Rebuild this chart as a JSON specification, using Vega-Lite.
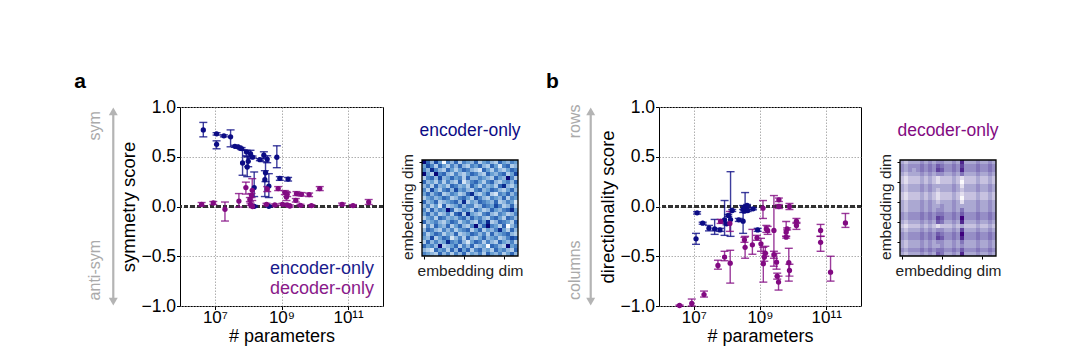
{
"$schema": "https://vega.github.io/schema/vega-lite/v6.json",
"background": "white",
"padding": {"left": 74, "top": 70, "right": 5, "bottom": 5},
"bounds": "flush",
"spacing": 39,
"config": {"font": "Liberation Sans", "view": {"stroke": "#000", "strokeWidth": 1}},
"datasets": {
"a": [
{"t":"e","x":4.47e6,"y":0.77,"lo":0.70,"hi":0.845},
{"t":"e","x":1.12e7,"y":0.73,"lo":0.718,"hi":0.742},
{"t":"e","x":1.12e7,"y":0.625,"lo":0.58,"hi":0.66},
{"t":"e","x":1.86e7,"y":0.71,"lo":0.70,"hi":0.72},
{"t":"e","x":2.95e7,"y":0.70,"lo":0.60,"hi":0.77},
{"t":"e","x":3.98e7,"y":0.605,"lo":0.595,"hi":0.615},
{"t":"e","x":5.01e7,"y":0.598,"lo":0.588,"hi":0.608},
{"t":"e","x":6.31e7,"y":0.582,"lo":0.572,"hi":0.592},
{"t":"e","x":8.91e7,"y":0.548,"lo":0.51,"hi":0.565},
{"t":"e","x":6.76e7,"y":0.437,"lo":0.314,"hi":0.565},
{"t":"e","x":9.33e7,"y":0.397,"lo":0.30,"hi":0.50},
{"t":"e","x":1.0e8,"y":0.454,"lo":0.40,"hi":0.50},
{"t":"e","x":1.17e8,"y":0.532,"lo":0.48,"hi":0.565},
{"t":"e","x":1.35e8,"y":0.497,"lo":0.487,"hi":0.507},
{"t":"e","x":1.51e8,"y":0.19,"lo":0.10,"hi":0.347},
{"t":"e","x":1.51e8,"y":0.002,"lo":-0.006,"hi":0.01},
{"t":"e","x":2.24e8,"y":0.471,"lo":0.461,"hi":0.481},
{"t":"e","x":2.95e8,"y":0.515,"lo":0.48,"hi":0.55},
{"t":"e","x":3.72e8,"y":0.477,"lo":0.44,"hi":0.51},
{"t":"e","x":3.31e8,"y":0.34,"lo":0.25,"hi":0.45},
{"t":"e","x":3.16e8,"y":0.27,"lo":0.10,"hi":0.36},
{"t":"e","x":4.17e8,"y":0.205,"lo":0.09,"hi":0.33},
{"t":"e","x":4.17e8,"y":0.002,"lo":-0.006,"hi":0.01},
{"t":"e","x":7.24e8,"y":0.495,"lo":0.39,"hi":0.61},
{"t":"e","x":8.91e8,"y":0.283,"lo":0.263,"hi":0.30},
{"t":"e","x":1.58e9,"y":0.276,"lo":0.256,"hi":0.292},
{"t":"d","x":3.98e6,"y":0.022,"lo":0.005,"hi":0.04},
{"t":"d","x":8.91e6,"y":0.035,"lo":0.02,"hi":0.05},
{"t":"d","x":2.0e7,"y":-0.028,"lo":-0.146,"hi":0.045},
{"t":"d","x":5.25e7,"y":0.055,"lo":-0.005,"hi":0.13},
{"t":"d","x":8.51e7,"y":0.19,"lo":0.125,"hi":0.245},
{"t":"d","x":1.32e8,"y":0.163,"lo":0.06,"hi":0.28},
{"t":"d","x":1.26e8,"y":0.112,"lo":0.09,"hi":0.13},
{"t":"d","x":1.12e8,"y":0.07,"lo":0.05,"hi":0.09},
{"t":"d","x":1.17e8,"y":0.022,"lo":0.01,"hi":0.034},
{"t":"d","x":1.35e8,"y":0.0,"lo":-0.01,"hi":0.01},
{"t":"d","x":3.55e8,"y":0.022,"lo":0.012,"hi":0.032},
{"t":"d","x":3.72e8,"y":0.176,"lo":0.15,"hi":0.2},
{"t":"d","x":6.31e8,"y":0.015,"lo":0.005,"hi":0.025},
{"t":"d","x":7.94e8,"y":0.18,"lo":0.16,"hi":0.2},
{"t":"d","x":1.07e9,"y":0.022,"lo":0.012,"hi":0.032},
{"t":"d","x":1.26e9,"y":0.14,"lo":0.12,"hi":0.16},
{"t":"d","x":1.41e9,"y":0.095,"lo":0.06,"hi":0.15},
{"t":"d","x":1.48e9,"y":0.122,"lo":0.1,"hi":0.14},
{"t":"d","x":1.48e9,"y":0.015,"lo":0.005,"hi":0.025},
{"t":"d","x":1.78e9,"y":0.005,"lo":-0.005,"hi":0.015},
{"t":"d","x":2.69e9,"y":0.062,"lo":0.045,"hi":0.08},
{"t":"d","x":2.82e9,"y":0.13,"lo":0.11,"hi":0.15},
{"t":"d","x":3.72e9,"y":0.012,"lo":0.002,"hi":0.022},
{"t":"d","x":3.98e9,"y":0.122,"lo":0.105,"hi":0.14},
{"t":"d","x":6.76e9,"y":0.12,"lo":0.10,"hi":0.135},
{"t":"d","x":7.94e9,"y":0.009,"lo":-0.001,"hi":0.019},
{"t":"d","x":1.41e10,"y":0.18,"lo":0.16,"hi":0.2},
{"t":"d","x":6.61e10,"y":0.022,"lo":0.01,"hi":0.034},
{"t":"d","x":1.41e11,"y":0.009,"lo":-0.001,"hi":0.019},
{"t":"d","x":4.17e11,"y":0.045,"lo":0.02,"hi":0.07}
],
"b": [
{"t":"e","x":1.17e7,"y":-0.325,"lo":-0.38,"hi":-0.27},
{"t":"e","x":1.26e7,"y":-0.064,"lo":-0.076,"hi":-0.052},
{"t":"e","x":1.86e7,"y":-0.168,"lo":-0.178,"hi":-0.158},
{"t":"e","x":2.88e7,"y":-0.218,"lo":-0.245,"hi":-0.19},
{"t":"e","x":4.27e7,"y":-0.225,"lo":-0.28,"hi":-0.13},
{"t":"e","x":6.17e7,"y":-0.235,"lo":-0.25,"hi":-0.22},
{"t":"e","x":8.51e7,"y":-0.134,"lo":-0.29,"hi":0.06},
{"t":"e","x":9.77e7,"y":-0.174,"lo":-0.184,"hi":-0.164},
{"t":"e","x":1.1e8,"y":-0.09,"lo":-0.1,"hi":-0.08},
{"t":"e","x":1.29e8,"y":-0.131,"lo":-0.30,"hi":0.35},
{"t":"e","x":1.45e8,"y":-0.04,"lo":-0.05,"hi":-0.03},
{"t":"e","x":2.29e8,"y":-0.134,"lo":-0.15,"hi":-0.12},
{"t":"e","x":3.09e8,"y":-0.148,"lo":-0.27,"hi":-0.03},
{"t":"e","x":3.09e8,"y":-0.023,"lo":-0.06,"hi":0.01},
{"t":"e","x":3.31e8,"y":-0.047,"lo":-0.057,"hi":-0.037},
{"t":"e","x":3.55e8,"y":-0.007,"lo":-0.04,"hi":0.14},
{"t":"e","x":4.07e8,"y":0.01,"lo":0.0,"hi":0.02},
{"t":"e","x":4.27e8,"y":-0.04,"lo":-0.05,"hi":-0.03},
{"t":"e","x":6.17e8,"y":-0.023,"lo":-0.033,"hi":-0.013},
{"t":"e","x":8.51e8,"y":-0.235,"lo":-0.25,"hi":-0.22},
{"t":"d","x":3.72e6,"y":-0.995,"lo":-1.0,"hi":-0.99},
{"t":"d","x":8.71e6,"y":-0.975,"lo":-1.0,"hi":-0.93},
{"t":"d","x":2.04e7,"y":-0.885,"lo":-0.91,"hi":-0.85},
{"t":"d","x":5.37e7,"y":-0.593,"lo":-0.63,"hi":-0.54},
{"t":"d","x":8.51e7,"y":-0.508,"lo":-0.545,"hi":-0.45},
{"t":"d","x":1.26e8,"y":-0.57,"lo":-0.77,"hi":-0.44},
{"t":"d","x":6.46e7,"y":-0.15,"lo":-0.17,"hi":-0.13},
{"t":"d","x":1.23e8,"y":-0.17,"lo":-0.25,"hi":-0.05},
{"t":"d","x":3.39e8,"y":-0.335,"lo":-0.36,"hi":-0.31},
{"t":"d","x":3.55e8,"y":-0.41,"lo":-0.52,"hi":-0.30},
{"t":"d","x":5.89e8,"y":-0.385,"lo":-0.48,"hi":-0.23},
{"t":"d","x":8.13e8,"y":-0.315,"lo":-0.34,"hi":-0.29},
{"t":"d","x":1.07e9,"y":-0.375,"lo":-0.45,"hi":-0.32},
{"t":"d","x":1.23e9,"y":-0.017,"lo":-0.12,"hi":0.06},
{"t":"d","x":1.26e9,"y":-0.575,"lo":-0.76,"hi":-0.41},
{"t":"d","x":1.35e9,"y":-0.51,"lo":-0.55,"hi":-0.47},
{"t":"d","x":1.45e9,"y":-0.47,"lo":-0.50,"hi":-0.40},
{"t":"d","x":1.55e9,"y":-0.225,"lo":-0.26,"hi":-0.19},
{"t":"d","x":1.7e9,"y":-0.24,"lo":-0.28,"hi":-0.20},
{"t":"d","x":2.63e9,"y":-0.24,"lo":-0.60,"hi":0.11},
{"t":"d","x":2.63e9,"y":-0.485,"lo":-0.52,"hi":-0.45},
{"t":"d","x":3.16e9,"y":-0.56,"lo":-0.63,"hi":-0.47},
{"t":"d","x":3.31e9,"y":-0.70,"lo":-0.73,"hi":-0.67},
{"t":"d","x":3.63e9,"y":-0.76,"lo":-0.84,"hi":-0.70},
{"t":"d","x":3.72e9,"y":0.067,"lo":0.05,"hi":0.085},
{"t":"d","x":3.72e9,"y":0.0,"lo":-0.02,"hi":0.02},
{"t":"d","x":6.17e9,"y":-0.258,"lo":-0.30,"hi":-0.15},
{"t":"d","x":6.17e9,"y":-0.308,"lo":-0.318,"hi":-0.298},
{"t":"d","x":6.61e9,"y":-0.225,"lo":-0.235,"hi":-0.215},
{"t":"d","x":7.41e9,"y":-0.565,"lo":-0.75,"hi":-0.42},
{"t":"d","x":7.76e9,"y":-0.643,"lo":-0.70,"hi":-0.58},
{"t":"d","x":7.76e9,"y":0.0,"lo":-0.03,"hi":0.03},
{"t":"d","x":1.26e10,"y":-0.148,"lo":-0.17,"hi":-0.12},
{"t":"d","x":1.26e10,"y":-0.19,"lo":-0.23,"hi":-0.16},
{"t":"d","x":6.76e10,"y":-0.24,"lo":-0.30,"hi":-0.18},
{"t":"d","x":6.76e10,"y":-0.36,"lo":-0.45,"hi":-0.30},
{"t":"d","x":1.35e11,"y":-0.66,"lo":-0.75,"hi":-0.50},
{"t":"d","x":3.8e11,"y":-0.165,"lo":-0.21,"hi":-0.07}
],
"hA": [
{"r":0,"c":0,"v":9},{"r":0,"c":1,"v":6},{"r":0,"c":2,"v":3},{"r":0,"c":3,"v":7},{"r":0,"c":4,"v":4},{"r":0,"c":5,"v":0},{"r":0,"c":6,"v":5},{"r":0,"c":7,"v":3},{"r":0,"c":8,"v":6},{"r":0,"c":9,"v":2},{"r":0,"c":10,"v":5},{"r":0,"c":11,"v":4},{"r":0,"c":12,"v":3},{"r":0,"c":13,"v":6},{"r":0,"c":14,"v":2},{"r":0,"c":15,"v":4},{"r":0,"c":16,"v":5},{"r":0,"c":17,"v":3},{"r":0,"c":18,"v":2},{"r":0,"c":19,"v":6},{"r":0,"c":20,"v":4},{"r":0,"c":21,"v":3},{"r":0,"c":22,"v":5},{"r":0,"c":23,"v":4},
{"r":1,"c":0,"v":4},{"r":1,"c":1,"v":7},{"r":1,"c":2,"v":5},{"r":1,"c":3,"v":2},{"r":1,"c":4,"v":6},{"r":1,"c":5,"v":4},{"r":1,"c":6,"v":2},{"r":1,"c":7,"v":5},{"r":1,"c":8,"v":3},{"r":1,"c":9,"v":6},{"r":1,"c":10,"v":3},{"r":1,"c":11,"v":2},{"r":1,"c":12,"v":5},{"r":1,"c":13,"v":4},{"r":1,"c":14,"v":6},{"r":1,"c":15,"v":3},{"r":1,"c":16,"v":2},{"r":1,"c":17,"v":6},{"r":1,"c":18,"v":4},{"r":1,"c":19,"v":1},{"r":1,"c":20,"v":5},{"r":1,"c":21,"v":6},{"r":1,"c":22,"v":2},{"r":1,"c":23,"v":3},
{"r":2,"c":0,"v":5},{"r":2,"c":1,"v":3},{"r":2,"c":2,"v":8},{"r":2,"c":3,"v":5},{"r":2,"c":4,"v":3},{"r":2,"c":5,"v":2},{"r":2,"c":6,"v":6},{"r":2,"c":7,"v":4},{"r":2,"c":8,"v":2},{"r":2,"c":9,"v":4},{"r":2,"c":10,"v":6},{"r":2,"c":11,"v":5},{"r":2,"c":12,"v":3},{"r":2,"c":13,"v":2},{"r":2,"c":14,"v":1},{"r":2,"c":15,"v":6},{"r":2,"c":16,"v":4},{"r":2,"c":17,"v":2},{"r":2,"c":18,"v":5},{"r":2,"c":19,"v":3},{"r":2,"c":20,"v":2},{"r":2,"c":21,"v":4},{"r":2,"c":22,"v":6},{"r":2,"c":23,"v":5},
{"r":3,"c":0,"v":9},{"r":3,"c":1,"v":4},{"r":3,"c":2,"v":2},{"r":3,"c":3,"v":9},{"r":3,"c":4,"v":5},{"r":3,"c":5,"v":6},{"r":3,"c":6,"v":3},{"r":3,"c":7,"v":2},{"r":3,"c":8,"v":5},{"r":3,"c":9,"v":3},{"r":3,"c":10,"v":2},{"r":3,"c":11,"v":4},{"r":3,"c":12,"v":6},{"r":3,"c":13,"v":5},{"r":3,"c":14,"v":3},{"r":3,"c":15,"v":2},{"r":3,"c":16,"v":6},{"r":3,"c":17,"v":4},{"r":3,"c":18,"v":3},{"r":3,"c":19,"v":5},{"r":3,"c":20,"v":6},{"r":3,"c":21,"v":2},{"r":3,"c":22,"v":4},{"r":3,"c":23,"v":7},
{"r":4,"c":0,"v":2},{"r":4,"c":1,"v":5},{"r":4,"c":2,"v":6},{"r":4,"c":3,"v":3},{"r":4,"c":4,"v":7},{"r":4,"c":5,"v":3},{"r":4,"c":6,"v":4},{"r":4,"c":7,"v":6},{"r":4,"c":8,"v":4},{"r":4,"c":9,"v":5},{"r":4,"c":10,"v":2},{"r":4,"c":11,"v":6},{"r":4,"c":12,"v":3},{"r":4,"c":13,"v":3},{"r":4,"c":14,"v":5},{"r":4,"c":15,"v":4},{"r":4,"c":16,"v":3},{"r":4,"c":17,"v":2},{"r":4,"c":18,"v":6},{"r":4,"c":19,"v":4},{"r":4,"c":20,"v":3},{"r":4,"c":21,"v":9},{"r":4,"c":22,"v":5},{"r":4,"c":23,"v":2},
{"r":5,"c":0,"v":6},{"r":5,"c":1,"v":3},{"r":5,"c":2,"v":4},{"r":5,"c":3,"v":2},{"r":5,"c":4,"v":5},{"r":5,"c":5,"v":2},{"r":5,"c":6,"v":5},{"r":5,"c":7,"v":3},{"r":5,"c":8,"v":2},{"r":5,"c":9,"v":6},{"r":5,"c":10,"v":1},{"r":5,"c":11,"v":3},{"r":5,"c":12,"v":5},{"r":5,"c":13,"v":6},{"r":5,"c":14,"v":4},{"r":5,"c":15,"v":2},{"r":5,"c":16,"v":5},{"r":5,"c":17,"v":6},{"r":5,"c":18,"v":3},{"r":5,"c":19,"v":2},{"r":5,"c":20,"v":4},{"r":5,"c":21,"v":5},{"r":5,"c":22,"v":3},{"r":5,"c":23,"v":6},
{"r":6,"c":0,"v":3},{"r":6,"c":1,"v":5},{"r":6,"c":2,"v":2},{"r":6,"c":3,"v":6},{"r":6,"c":4,"v":3},{"r":6,"c":5,"v":4},{"r":6,"c":6,"v":2},{"r":6,"c":7,"v":6},{"r":6,"c":8,"v":5},{"r":6,"c":9,"v":3},{"r":6,"c":10,"v":4},{"r":6,"c":11,"v":2},{"r":6,"c":12,"v":6},{"r":6,"c":13,"v":4},{"r":6,"c":14,"v":2},{"r":6,"c":15,"v":5},{"r":6,"c":16,"v":3},{"r":6,"c":17,"v":4},{"r":6,"c":18,"v":2},{"r":6,"c":19,"v":6},{"r":6,"c":20,"v":8},{"r":6,"c":21,"v":3},{"r":6,"c":22,"v":2},{"r":6,"c":23,"v":4},
{"r":7,"c":0,"v":5},{"r":7,"c":1,"v":2},{"r":7,"c":2,"v":7},{"r":7,"c":3,"v":4},{"r":7,"c":4,"v":2},{"r":7,"c":5,"v":5},{"r":7,"c":6,"v":6},{"r":7,"c":7,"v":3},{"r":7,"c":8,"v":7},{"r":7,"c":9,"v":4},{"r":7,"c":10,"v":5},{"r":7,"c":11,"v":3},{"r":7,"c":12,"v":2},{"r":7,"c":13,"v":5},{"r":7,"c":14,"v":6},{"r":7,"c":15,"v":3},{"r":7,"c":16,"v":4},{"r":7,"c":17,"v":6},{"r":7,"c":18,"v":5},{"r":7,"c":19,"v":3},{"r":7,"c":20,"v":2},{"r":7,"c":21,"v":4},{"r":7,"c":22,"v":6},{"r":7,"c":23,"v":3},
{"r":8,"c":0,"v":4},{"r":8,"c":1,"v":6},{"r":8,"c":2,"v":3},{"r":8,"c":3,"v":5},{"r":8,"c":4,"v":6},{"r":8,"c":5,"v":2},{"r":8,"c":6,"v":3},{"r":8,"c":7,"v":5},{"r":8,"c":8,"v":4},{"r":8,"c":9,"v":2},{"r":8,"c":10,"v":3},{"r":8,"c":11,"v":6},{"r":8,"c":12,"v":8},{"r":8,"c":13,"v":3},{"r":8,"c":14,"v":2},{"r":8,"c":15,"v":4},{"r":8,"c":16,"v":6},{"r":8,"c":17,"v":2},{"r":8,"c":18,"v":1},{"r":8,"c":19,"v":5},{"r":8,"c":20,"v":4},{"r":8,"c":21,"v":6},{"r":8,"c":22,"v":3},{"r":8,"c":23,"v":5},
{"r":9,"c":0,"v":2},{"r":9,"c":1,"v":4},{"r":9,"c":2,"v":5},{"r":9,"c":3,"v":3},{"r":9,"c":4,"v":4},{"r":9,"c":5,"v":6},{"r":9,"c":6,"v":5},{"r":9,"c":7,"v":2},{"r":9,"c":8,"v":3},{"r":9,"c":9,"v":5},{"r":9,"c":10,"v":6},{"r":9,"c":11,"v":4},{"r":9,"c":12,"v":2},{"r":9,"c":13,"v":7},{"r":9,"c":14,"v":5},{"r":9,"c":15,"v":3},{"r":9,"c":16,"v":2},{"r":9,"c":17,"v":5},{"r":9,"c":18,"v":4},{"r":9,"c":19,"v":3},{"r":9,"c":20,"v":6},{"r":9,"c":21,"v":2},{"r":9,"c":22,"v":5},{"r":9,"c":23,"v":4},
{"r":10,"c":0,"v":6},{"r":10,"c":1,"v":3},{"r":10,"c":2,"v":4},{"r":10,"c":3,"v":6},{"r":10,"c":4,"v":2},{"r":10,"c":5,"v":3},{"r":10,"c":6,"v":4},{"r":10,"c":7,"v":5},{"r":10,"c":8,"v":6},{"r":10,"c":9,"v":3},{"r":10,"c":10,"v":8},{"r":10,"c":11,"v":2},{"r":10,"c":12,"v":4},{"r":10,"c":13,"v":3},{"r":10,"c":14,"v":6},{"r":10,"c":15,"v":5},{"r":10,"c":16,"v":4},{"r":10,"c":17,"v":3},{"r":10,"c":18,"v":6},{"r":10,"c":19,"v":2},{"r":10,"c":20,"v":3},{"r":10,"c":21,"v":5},{"r":10,"c":22,"v":4},{"r":10,"c":23,"v":1},
{"r":11,"c":0,"v":3},{"r":11,"c":1,"v":5},{"r":11,"c":2,"v":2},{"r":11,"c":3,"v":4},{"r":11,"c":4,"v":1},{"r":11,"c":5,"v":6},{"r":11,"c":6,"v":2},{"r":11,"c":7,"v":3},{"r":11,"c":8,"v":4},{"r":11,"c":9,"v":6},{"r":11,"c":10,"v":3},{"r":11,"c":11,"v":5},{"r":11,"c":12,"v":5},{"r":11,"c":13,"v":2},{"r":11,"c":14,"v":3},{"r":11,"c":15,"v":6},{"r":11,"c":16,"v":5},{"r":11,"c":17,"v":4},{"r":11,"c":18,"v":7},{"r":11,"c":19,"v":5},{"r":11,"c":20,"v":2},{"r":11,"c":21,"v":3},{"r":11,"c":22,"v":6},{"r":11,"c":23,"v":2},
{"r":12,"c":0,"v":5},{"r":12,"c":1,"v":2},{"r":12,"c":2,"v":6},{"r":12,"c":3,"v":3},{"r":12,"c":4,"v":5},{"r":12,"c":5,"v":4},{"r":12,"c":6,"v":9},{"r":12,"c":7,"v":6},{"r":12,"c":8,"v":2},{"r":12,"c":9,"v":3},{"r":12,"c":10,"v":5},{"r":12,"c":11,"v":4},{"r":12,"c":12,"v":2},{"r":12,"c":13,"v":6},{"r":12,"c":14,"v":4},{"r":12,"c":15,"v":2},{"r":12,"c":16,"v":3},{"r":12,"c":17,"v":6},{"r":12,"c":18,"v":4},{"r":12,"c":19,"v":3},{"r":12,"c":20,"v":5},{"r":12,"c":21,"v":6},{"r":12,"c":22,"v":8},{"r":12,"c":23,"v":4},
{"r":13,"c":0,"v":4},{"r":13,"c":1,"v":6},{"r":13,"c":2,"v":3},{"r":13,"c":3,"v":5},{"r":13,"c":4,"v":2},{"r":13,"c":5,"v":3},{"r":13,"c":6,"v":5},{"r":13,"c":7,"v":2},{"r":13,"c":8,"v":6},{"r":13,"c":9,"v":7},{"r":13,"c":10,"v":2},{"r":13,"c":11,"v":8},{"r":13,"c":12,"v":4},{"r":13,"c":13,"v":3},{"r":13,"c":14,"v":2},{"r":13,"c":15,"v":5},{"r":13,"c":16,"v":6},{"r":13,"c":17,"v":3},{"r":13,"c":18,"v":2},{"r":13,"c":19,"v":5},{"r":13,"c":20,"v":4},{"r":13,"c":21,"v":2},{"r":13,"c":22,"v":3},{"r":13,"c":23,"v":5},
{"r":14,"c":0,"v":2},{"r":14,"c":1,"v":4},{"r":14,"c":2,"v":5},{"r":14,"c":3,"v":2},{"r":14,"c":4,"v":6},{"r":14,"c":5,"v":5},{"r":14,"c":6,"v":3},{"r":14,"c":7,"v":4},{"r":14,"c":8,"v":3},{"r":14,"c":9,"v":5},{"r":14,"c":10,"v":6},{"r":14,"c":11,"v":3},{"r":14,"c":12,"v":6},{"r":14,"c":13,"v":4},{"r":14,"c":14,"v":5},{"r":14,"c":15,"v":3},{"r":14,"c":16,"v":2},{"r":14,"c":17,"v":5},{"r":14,"c":18,"v":6},{"r":14,"c":19,"v":4},{"r":14,"c":20,"v":2},{"r":14,"c":21,"v":6},{"r":14,"c":22,"v":5},{"r":14,"c":23,"v":3},
{"r":15,"c":0,"v":6},{"r":15,"c":1,"v":3},{"r":15,"c":2,"v":4},{"r":15,"c":3,"v":5},{"r":15,"c":4,"v":3},{"r":15,"c":5,"v":2},{"r":15,"c":6,"v":4},{"r":15,"c":7,"v":6},{"r":15,"c":8,"v":5},{"r":15,"c":9,"v":2},{"r":15,"c":10,"v":4},{"r":15,"c":11,"v":5},{"r":15,"c":12,"v":3},{"r":15,"c":13,"v":2},{"r":15,"c":14,"v":6},{"r":15,"c":15,"v":4},{"r":15,"c":16,"v":8},{"r":15,"c":17,"v":2},{"r":15,"c":18,"v":3},{"r":15,"c":19,"v":6},{"r":15,"c":20,"v":5},{"r":15,"c":21,"v":4},{"r":15,"c":22,"v":2},{"r":15,"c":23,"v":6},
{"r":16,"c":0,"v":1},{"r":16,"c":1,"v":5},{"r":16,"c":2,"v":2},{"r":16,"c":3,"v":6},{"r":16,"c":4,"v":4},{"r":16,"c":5,"v":3},{"r":16,"c":6,"v":6},{"r":16,"c":7,"v":2},{"r":16,"c":8,"v":4},{"r":16,"c":9,"v":6},{"r":16,"c":10,"v":3},{"r":16,"c":11,"v":2},{"r":16,"c":12,"v":5},{"r":16,"c":13,"v":9},{"r":16,"c":14,"v":3},{"r":16,"c":15,"v":6},{"r":16,"c":16,"v":9},{"r":16,"c":17,"v":5},{"r":16,"c":18,"v":4},{"r":16,"c":19,"v":2},{"r":16,"c":20,"v":6},{"r":16,"c":21,"v":0},{"r":16,"c":22,"v":3},{"r":16,"c":23,"v":5},
{"r":17,"c":0,"v":3},{"r":17,"c":1,"v":6},{"r":17,"c":2,"v":5},{"r":17,"c":3,"v":3},{"r":17,"c":4,"v":2},{"r":17,"c":5,"v":5},{"r":17,"c":6,"v":3},{"r":17,"c":7,"v":5},{"r":17,"c":8,"v":2},{"r":17,"c":9,"v":4},{"r":17,"c":10,"v":5},{"r":17,"c":11,"v":6},{"r":17,"c":12,"v":2},{"r":17,"c":13,"v":4},{"r":17,"c":14,"v":6},{"r":17,"c":15,"v":2},{"r":17,"c":16,"v":4},{"r":17,"c":17,"v":3},{"r":17,"c":18,"v":5},{"r":17,"c":19,"v":8},{"r":17,"c":20,"v":4},{"r":17,"c":21,"v":2},{"r":17,"c":22,"v":6},{"r":17,"c":23,"v":3},
{"r":18,"c":0,"v":5},{"r":18,"c":1,"v":2},{"r":18,"c":2,"v":4},{"r":18,"c":3,"v":6},{"r":18,"c":4,"v":5},{"r":18,"c":5,"v":2},{"r":18,"c":6,"v":4},{"r":18,"c":7,"v":3},{"r":18,"c":8,"v":6},{"r":18,"c":9,"v":2},{"r":18,"c":10,"v":3},{"r":18,"c":11,"v":4},{"r":18,"c":12,"v":6},{"r":18,"c":13,"v":5},{"r":18,"c":14,"v":3},{"r":18,"c":15,"v":5},{"r":18,"c":16,"v":2},{"r":18,"c":17,"v":6},{"r":18,"c":18,"v":3},{"r":18,"c":19,"v":4},{"r":18,"c":20,"v":5},{"r":18,"c":21,"v":6},{"r":18,"c":22,"v":3},{"r":18,"c":23,"v":2},
{"r":19,"c":0,"v":4},{"r":19,"c":1,"v":3},{"r":19,"c":2,"v":7},{"r":19,"c":3,"v":2},{"r":19,"c":4,"v":4},{"r":19,"c":5,"v":6},{"r":19,"c":6,"v":5},{"r":19,"c":7,"v":1},{"r":19,"c":8,"v":3},{"r":19,"c":9,"v":5},{"r":19,"c":10,"v":2},{"r":19,"c":11,"v":6},{"r":19,"c":12,"v":3},{"r":19,"c":13,"v":2},{"r":19,"c":14,"v":4},{"r":19,"c":15,"v":6},{"r":19,"c":16,"v":3},{"r":19,"c":17,"v":4},{"r":19,"c":18,"v":5},{"r":19,"c":19,"v":2},{"r":19,"c":20,"v":3},{"r":19,"c":21,"v":5},{"r":19,"c":22,"v":7},{"r":19,"c":23,"v":6},
{"r":20,"c":0,"v":2},{"r":20,"c":1,"v":6},{"r":20,"c":2,"v":3},{"r":20,"c":3,"v":5},{"r":20,"c":4,"v":3},{"r":20,"c":5,"v":4},{"r":20,"c":6,"v":8},{"r":20,"c":7,"v":5},{"r":20,"c":8,"v":4},{"r":20,"c":9,"v":6},{"r":20,"c":10,"v":3},{"r":20,"c":11,"v":1},{"r":20,"c":12,"v":4},{"r":20,"c":13,"v":6},{"r":20,"c":14,"v":5},{"r":20,"c":15,"v":2},{"r":20,"c":16,"v":5},{"r":20,"c":17,"v":3},{"r":20,"c":18,"v":2},{"r":20,"c":19,"v":6},{"r":20,"c":20,"v":4},{"r":20,"c":21,"v":3},{"r":20,"c":22,"v":5},{"r":20,"c":23,"v":2},
{"r":21,"c":0,"v":6},{"r":21,"c":1,"v":4},{"r":21,"c":2,"v":5},{"r":21,"c":3,"v":3},{"r":21,"c":4,"v":9},{"r":21,"c":5,"v":2},{"r":21,"c":6,"v":3},{"r":21,"c":7,"v":4},{"r":21,"c":8,"v":6},{"r":21,"c":9,"v":2},{"r":21,"c":10,"v":5},{"r":21,"c":11,"v":3},{"r":21,"c":12,"v":6},{"r":21,"c":13,"v":2},{"r":21,"c":14,"v":3},{"r":21,"c":15,"v":4},{"r":21,"c":16,"v":0},{"r":21,"c":17,"v":6},{"r":21,"c":18,"v":5},{"r":21,"c":19,"v":3},{"r":21,"c":20,"v":2},{"r":21,"c":21,"v":9},{"r":21,"c":22,"v":4},{"r":21,"c":23,"v":5},
{"r":22,"c":0,"v":3},{"r":22,"c":1,"v":2},{"r":22,"c":2,"v":1},{"r":22,"c":3,"v":6},{"r":22,"c":4,"v":4},{"r":22,"c":5,"v":5},{"r":22,"c":6,"v":2},{"r":22,"c":7,"v":6},{"r":22,"c":8,"v":3},{"r":22,"c":9,"v":7},{"r":22,"c":10,"v":4},{"r":22,"c":11,"v":6},{"r":22,"c":12,"v":2},{"r":22,"c":13,"v":5},{"r":22,"c":14,"v":6},{"r":22,"c":15,"v":3},{"r":22,"c":16,"v":4},{"r":22,"c":17,"v":2},{"r":22,"c":18,"v":6},{"r":22,"c":19,"v":4},{"r":22,"c":20,"v":5},{"r":22,"c":21,"v":3},{"r":22,"c":22,"v":2},{"r":22,"c":23,"v":6},
{"r":23,"c":0,"v":5},{"r":23,"c":1,"v":4},{"r":23,"c":2,"v":3},{"r":23,"c":3,"v":2},{"r":23,"c":4,"v":6},{"r":23,"c":5,"v":3},{"r":23,"c":6,"v":5},{"r":23,"c":7,"v":2},{"r":23,"c":8,"v":5},{"r":23,"c":9,"v":3},{"r":23,"c":10,"v":6},{"r":23,"c":11,"v":2},{"r":23,"c":12,"v":4},{"r":23,"c":13,"v":3},{"r":23,"c":14,"v":5},{"r":23,"c":15,"v":2},{"r":23,"c":16,"v":6},{"r":23,"c":17,"v":4},{"r":23,"c":18,"v":3},{"r":23,"c":19,"v":5},{"r":23,"c":20,"v":2},{"r":23,"c":21,"v":4},{"r":23,"c":22,"v":6},{"r":23,"c":23,"v":3}
],
"hB": [
{"r":0,"c":0,"v":3},{"r":0,"c":1,"v":2},{"r":0,"c":2,"v":3},{"r":0,"c":3,"v":3},{"r":0,"c":4,"v":3},{"r":0,"c":5,"v":4},{"r":0,"c":6,"v":3},{"r":0,"c":7,"v":4},{"r":0,"c":8,"v":3},{"r":0,"c":9,"v":4},{"r":0,"c":10,"v":4},{"r":0,"c":11,"v":3},{"r":0,"c":12,"v":3},{"r":0,"c":13,"v":4},{"r":0,"c":14,"v":3},{"r":0,"c":15,"v":8},{"r":0,"c":16,"v":3},{"r":0,"c":17,"v":3},{"r":0,"c":18,"v":3},{"r":0,"c":19,"v":4},{"r":0,"c":20,"v":3},{"r":0,"c":21,"v":3},{"r":0,"c":22,"v":4},{"r":0,"c":23,"v":3},
{"r":1,"c":0,"v":4},{"r":1,"c":1,"v":3},{"r":1,"c":2,"v":4},{"r":1,"c":3,"v":4},{"r":1,"c":4,"v":4},{"r":1,"c":5,"v":5},{"r":1,"c":6,"v":4},{"r":1,"c":7,"v":5},{"r":1,"c":8,"v":4},{"r":1,"c":9,"v":6},{"r":1,"c":10,"v":5},{"r":1,"c":11,"v":4},{"r":1,"c":12,"v":4},{"r":1,"c":13,"v":5},{"r":1,"c":14,"v":4},{"r":1,"c":15,"v":7},{"r":1,"c":16,"v":4},{"r":1,"c":17,"v":4},{"r":1,"c":18,"v":4},{"r":1,"c":19,"v":5},{"r":1,"c":20,"v":4},{"r":1,"c":21,"v":4},{"r":1,"c":22,"v":5},{"r":1,"c":23,"v":4},
{"r":2,"c":0,"v":4},{"r":2,"c":1,"v":3},{"r":2,"c":2,"v":4},{"r":2,"c":3,"v":3},{"r":2,"c":4,"v":4},{"r":2,"c":5,"v":5},{"r":2,"c":6,"v":4},{"r":2,"c":7,"v":5},{"r":2,"c":8,"v":4},{"r":2,"c":9,"v":7},{"r":2,"c":10,"v":6},{"r":2,"c":11,"v":4},{"r":2,"c":12,"v":4},{"r":2,"c":13,"v":5},{"r":2,"c":14,"v":4},{"r":2,"c":15,"v":8},{"r":2,"c":16,"v":4},{"r":2,"c":17,"v":4},{"r":2,"c":18,"v":4},{"r":2,"c":19,"v":5},{"r":2,"c":20,"v":4},{"r":2,"c":21,"v":4},{"r":2,"c":22,"v":5},{"r":2,"c":23,"v":4},
{"r":3,"c":0,"v":3},{"r":3,"c":1,"v":2},{"r":3,"c":2,"v":3},{"r":3,"c":3,"v":3},{"r":3,"c":4,"v":3},{"r":3,"c":5,"v":4},{"r":3,"c":6,"v":3},{"r":3,"c":7,"v":4},{"r":3,"c":8,"v":3},{"r":3,"c":9,"v":4},{"r":3,"c":10,"v":4},{"r":3,"c":11,"v":3},{"r":3,"c":12,"v":3},{"r":3,"c":13,"v":4},{"r":3,"c":14,"v":3},{"r":3,"c":15,"v":5},{"r":3,"c":16,"v":3},{"r":3,"c":17,"v":3},{"r":3,"c":18,"v":3},{"r":3,"c":19,"v":4},{"r":3,"c":20,"v":3},{"r":3,"c":21,"v":3},{"r":3,"c":22,"v":4},{"r":3,"c":23,"v":3},
{"r":4,"c":0,"v":2},{"r":4,"c":1,"v":1},{"r":4,"c":2,"v":2},{"r":4,"c":3,"v":2},{"r":4,"c":4,"v":2},{"r":4,"c":5,"v":3},{"r":4,"c":6,"v":2},{"r":4,"c":7,"v":3},{"r":4,"c":8,"v":2},{"r":4,"c":9,"v":1},{"r":4,"c":10,"v":2},{"r":4,"c":11,"v":2},{"r":4,"c":12,"v":2},{"r":4,"c":13,"v":3},{"r":4,"c":14,"v":2},{"r":4,"c":15,"v":1},{"r":4,"c":16,"v":2},{"r":4,"c":17,"v":2},{"r":4,"c":18,"v":2},{"r":4,"c":19,"v":3},{"r":4,"c":20,"v":2},{"r":4,"c":21,"v":2},{"r":4,"c":22,"v":3},{"r":4,"c":23,"v":2},
{"r":5,"c":0,"v":2},{"r":5,"c":1,"v":1},{"r":5,"c":2,"v":2},{"r":5,"c":3,"v":2},{"r":5,"c":4,"v":2},{"r":5,"c":5,"v":3},{"r":5,"c":6,"v":2},{"r":5,"c":7,"v":3},{"r":5,"c":8,"v":2},{"r":5,"c":9,"v":1},{"r":5,"c":10,"v":2},{"r":5,"c":11,"v":2},{"r":5,"c":12,"v":2},{"r":5,"c":13,"v":3},{"r":5,"c":14,"v":2},{"r":5,"c":15,"v":0},{"r":5,"c":16,"v":2},{"r":5,"c":17,"v":2},{"r":5,"c":18,"v":2},{"r":5,"c":19,"v":3},{"r":5,"c":20,"v":2},{"r":5,"c":21,"v":2},{"r":5,"c":22,"v":3},{"r":5,"c":23,"v":2},
{"r":6,"c":0,"v":3},{"r":6,"c":1,"v":2},{"r":6,"c":2,"v":3},{"r":6,"c":3,"v":3},{"r":6,"c":4,"v":3},{"r":6,"c":5,"v":4},{"r":6,"c":6,"v":3},{"r":6,"c":7,"v":4},{"r":6,"c":8,"v":3},{"r":6,"c":9,"v":3},{"r":6,"c":10,"v":3},{"r":6,"c":11,"v":3},{"r":6,"c":12,"v":3},{"r":6,"c":13,"v":4},{"r":6,"c":14,"v":3},{"r":6,"c":15,"v":1},{"r":6,"c":16,"v":3},{"r":6,"c":17,"v":3},{"r":6,"c":18,"v":3},{"r":6,"c":19,"v":4},{"r":6,"c":20,"v":3},{"r":6,"c":21,"v":3},{"r":6,"c":22,"v":4},{"r":6,"c":23,"v":3},
{"r":7,"c":0,"v":3},{"r":7,"c":1,"v":2},{"r":7,"c":2,"v":3},{"r":7,"c":3,"v":3},{"r":7,"c":4,"v":3},{"r":7,"c":5,"v":4},{"r":7,"c":6,"v":3},{"r":7,"c":7,"v":4},{"r":7,"c":8,"v":3},{"r":7,"c":9,"v":2},{"r":7,"c":10,"v":3},{"r":7,"c":11,"v":3},{"r":7,"c":12,"v":3},{"r":7,"c":13,"v":4},{"r":7,"c":14,"v":3},{"r":7,"c":15,"v":2},{"r":7,"c":16,"v":3},{"r":7,"c":17,"v":3},{"r":7,"c":18,"v":3},{"r":7,"c":19,"v":4},{"r":7,"c":20,"v":3},{"r":7,"c":21,"v":3},{"r":7,"c":22,"v":4},{"r":7,"c":23,"v":3},
{"r":8,"c":0,"v":2},{"r":8,"c":1,"v":1},{"r":8,"c":2,"v":2},{"r":8,"c":3,"v":2},{"r":8,"c":4,"v":2},{"r":8,"c":5,"v":3},{"r":8,"c":6,"v":2},{"r":8,"c":7,"v":3},{"r":8,"c":8,"v":2},{"r":8,"c":9,"v":1},{"r":8,"c":10,"v":2},{"r":8,"c":11,"v":2},{"r":8,"c":12,"v":2},{"r":8,"c":13,"v":3},{"r":8,"c":14,"v":2},{"r":8,"c":15,"v":1},{"r":8,"c":16,"v":2},{"r":8,"c":17,"v":2},{"r":8,"c":18,"v":2},{"r":8,"c":19,"v":3},{"r":8,"c":20,"v":2},{"r":8,"c":21,"v":2},{"r":8,"c":22,"v":3},{"r":8,"c":23,"v":2},
{"r":9,"c":0,"v":2},{"r":9,"c":1,"v":1},{"r":9,"c":2,"v":2},{"r":9,"c":3,"v":2},{"r":9,"c":4,"v":2},{"r":9,"c":5,"v":3},{"r":9,"c":6,"v":2},{"r":9,"c":7,"v":3},{"r":9,"c":8,"v":2},{"r":9,"c":9,"v":1},{"r":9,"c":10,"v":2},{"r":9,"c":11,"v":2},{"r":9,"c":12,"v":2},{"r":9,"c":13,"v":3},{"r":9,"c":14,"v":2},{"r":9,"c":15,"v":0},{"r":9,"c":16,"v":2},{"r":9,"c":17,"v":2},{"r":9,"c":18,"v":2},{"r":9,"c":19,"v":3},{"r":9,"c":20,"v":2},{"r":9,"c":21,"v":2},{"r":9,"c":22,"v":3},{"r":9,"c":23,"v":2},
{"r":10,"c":0,"v":3},{"r":10,"c":1,"v":2},{"r":10,"c":2,"v":3},{"r":10,"c":3,"v":3},{"r":10,"c":4,"v":3},{"r":10,"c":5,"v":4},{"r":10,"c":6,"v":3},{"r":10,"c":7,"v":4},{"r":10,"c":8,"v":3},{"r":10,"c":9,"v":2},{"r":10,"c":10,"v":3},{"r":10,"c":11,"v":3},{"r":10,"c":12,"v":3},{"r":10,"c":13,"v":4},{"r":10,"c":14,"v":3},{"r":10,"c":15,"v":1},{"r":10,"c":16,"v":3},{"r":10,"c":17,"v":3},{"r":10,"c":18,"v":3},{"r":10,"c":19,"v":4},{"r":10,"c":20,"v":3},{"r":10,"c":21,"v":3},{"r":10,"c":22,"v":4},{"r":10,"c":23,"v":3},
{"r":11,"c":0,"v":3},{"r":11,"c":1,"v":2},{"r":11,"c":2,"v":3},{"r":11,"c":3,"v":3},{"r":11,"c":4,"v":3},{"r":11,"c":5,"v":4},{"r":11,"c":6,"v":3},{"r":11,"c":7,"v":4},{"r":11,"c":8,"v":3},{"r":11,"c":9,"v":3},{"r":11,"c":10,"v":4},{"r":11,"c":11,"v":3},{"r":11,"c":12,"v":3},{"r":11,"c":13,"v":4},{"r":11,"c":14,"v":3},{"r":11,"c":15,"v":3},{"r":11,"c":16,"v":3},{"r":11,"c":17,"v":3},{"r":11,"c":18,"v":3},{"r":11,"c":19,"v":4},{"r":11,"c":20,"v":3},{"r":11,"c":21,"v":3},{"r":11,"c":22,"v":4},{"r":11,"c":23,"v":3},
{"r":12,"c":0,"v":3},{"r":12,"c":1,"v":2},{"r":12,"c":2,"v":3},{"r":12,"c":3,"v":3},{"r":12,"c":4,"v":3},{"r":12,"c":5,"v":4},{"r":12,"c":6,"v":3},{"r":12,"c":7,"v":4},{"r":12,"c":8,"v":3},{"r":12,"c":9,"v":4},{"r":12,"c":10,"v":4},{"r":12,"c":11,"v":3},{"r":12,"c":12,"v":3},{"r":12,"c":13,"v":4},{"r":12,"c":14,"v":3},{"r":12,"c":15,"v":5},{"r":12,"c":16,"v":3},{"r":12,"c":17,"v":3},{"r":12,"c":18,"v":3},{"r":12,"c":19,"v":4},{"r":12,"c":20,"v":3},{"r":12,"c":21,"v":3},{"r":12,"c":22,"v":4},{"r":12,"c":23,"v":3},
{"r":13,"c":0,"v":4},{"r":13,"c":1,"v":3},{"r":13,"c":2,"v":4},{"r":13,"c":3,"v":4},{"r":13,"c":4,"v":4},{"r":13,"c":5,"v":5},{"r":13,"c":6,"v":4},{"r":13,"c":7,"v":5},{"r":13,"c":8,"v":4},{"r":13,"c":9,"v":5},{"r":13,"c":10,"v":5},{"r":13,"c":11,"v":4},{"r":13,"c":12,"v":4},{"r":13,"c":13,"v":5},{"r":13,"c":14,"v":4},{"r":13,"c":15,"v":6},{"r":13,"c":16,"v":4},{"r":13,"c":17,"v":4},{"r":13,"c":18,"v":4},{"r":13,"c":19,"v":5},{"r":13,"c":20,"v":4},{"r":13,"c":21,"v":4},{"r":13,"c":22,"v":5},{"r":13,"c":23,"v":4},
{"r":14,"c":0,"v":4},{"r":14,"c":1,"v":3},{"r":14,"c":2,"v":4},{"r":14,"c":3,"v":4},{"r":14,"c":4,"v":4},{"r":14,"c":5,"v":5},{"r":14,"c":6,"v":4},{"r":14,"c":7,"v":5},{"r":14,"c":8,"v":4},{"r":14,"c":9,"v":7},{"r":14,"c":10,"v":6},{"r":14,"c":11,"v":4},{"r":14,"c":12,"v":4},{"r":14,"c":13,"v":5},{"r":14,"c":14,"v":4},{"r":14,"c":15,"v":9},{"r":14,"c":16,"v":4},{"r":14,"c":17,"v":4},{"r":14,"c":18,"v":4},{"r":14,"c":19,"v":5},{"r":14,"c":20,"v":4},{"r":14,"c":21,"v":4},{"r":14,"c":22,"v":5},{"r":14,"c":23,"v":4},
{"r":15,"c":0,"v":3},{"r":15,"c":1,"v":2},{"r":15,"c":2,"v":3},{"r":15,"c":3,"v":3},{"r":15,"c":4,"v":3},{"r":15,"c":5,"v":4},{"r":15,"c":6,"v":3},{"r":15,"c":7,"v":4},{"r":15,"c":8,"v":3},{"r":15,"c":9,"v":6},{"r":15,"c":10,"v":5},{"r":15,"c":11,"v":3},{"r":15,"c":12,"v":3},{"r":15,"c":13,"v":4},{"r":15,"c":14,"v":3},{"r":15,"c":15,"v":8},{"r":15,"c":16,"v":3},{"r":15,"c":17,"v":3},{"r":15,"c":18,"v":3},{"r":15,"c":19,"v":4},{"r":15,"c":20,"v":3},{"r":15,"c":21,"v":3},{"r":15,"c":22,"v":4},{"r":15,"c":23,"v":3},
{"r":16,"c":0,"v":2},{"r":16,"c":1,"v":1},{"r":16,"c":2,"v":2},{"r":16,"c":3,"v":2},{"r":16,"c":4,"v":2},{"r":16,"c":5,"v":3},{"r":16,"c":6,"v":2},{"r":16,"c":7,"v":3},{"r":16,"c":8,"v":2},{"r":16,"c":9,"v":1},{"r":16,"c":10,"v":2},{"r":16,"c":11,"v":2},{"r":16,"c":12,"v":2},{"r":16,"c":13,"v":3},{"r":16,"c":14,"v":2},{"r":16,"c":15,"v":3},{"r":16,"c":16,"v":2},{"r":16,"c":17,"v":2},{"r":16,"c":18,"v":2},{"r":16,"c":19,"v":3},{"r":16,"c":20,"v":2},{"r":16,"c":21,"v":2},{"r":16,"c":22,"v":3},{"r":16,"c":23,"v":2},
{"r":17,"c":0,"v":3},{"r":17,"c":1,"v":2},{"r":17,"c":2,"v":3},{"r":17,"c":3,"v":3},{"r":17,"c":4,"v":3},{"r":17,"c":5,"v":4},{"r":17,"c":6,"v":3},{"r":17,"c":7,"v":4},{"r":17,"c":8,"v":3},{"r":17,"c":9,"v":4},{"r":17,"c":10,"v":4},{"r":17,"c":11,"v":3},{"r":17,"c":12,"v":3},{"r":17,"c":13,"v":4},{"r":17,"c":14,"v":3},{"r":17,"c":15,"v":7},{"r":17,"c":16,"v":3},{"r":17,"c":17,"v":3},{"r":17,"c":18,"v":3},{"r":17,"c":19,"v":4},{"r":17,"c":20,"v":3},{"r":17,"c":21,"v":3},{"r":17,"c":22,"v":4},{"r":17,"c":23,"v":3},
{"r":18,"c":0,"v":4},{"r":18,"c":1,"v":3},{"r":18,"c":2,"v":4},{"r":18,"c":3,"v":4},{"r":18,"c":4,"v":4},{"r":18,"c":5,"v":5},{"r":18,"c":6,"v":4},{"r":18,"c":7,"v":5},{"r":18,"c":8,"v":4},{"r":18,"c":9,"v":6},{"r":18,"c":10,"v":5},{"r":18,"c":11,"v":4},{"r":18,"c":12,"v":4},{"r":18,"c":13,"v":5},{"r":18,"c":14,"v":4},{"r":18,"c":15,"v":9},{"r":18,"c":16,"v":4},{"r":18,"c":17,"v":4},{"r":18,"c":18,"v":4},{"r":18,"c":19,"v":5},{"r":18,"c":20,"v":4},{"r":18,"c":21,"v":4},{"r":18,"c":22,"v":5},{"r":18,"c":23,"v":4},
{"r":19,"c":0,"v":4},{"r":19,"c":1,"v":3},{"r":19,"c":2,"v":4},{"r":19,"c":3,"v":4},{"r":19,"c":4,"v":4},{"r":19,"c":5,"v":5},{"r":19,"c":6,"v":4},{"r":19,"c":7,"v":5},{"r":19,"c":8,"v":4},{"r":19,"c":9,"v":7},{"r":19,"c":10,"v":6},{"r":19,"c":11,"v":4},{"r":19,"c":12,"v":4},{"r":19,"c":13,"v":5},{"r":19,"c":14,"v":4},{"r":19,"c":15,"v":8},{"r":19,"c":16,"v":4},{"r":19,"c":17,"v":4},{"r":19,"c":18,"v":4},{"r":19,"c":19,"v":5},{"r":19,"c":20,"v":4},{"r":19,"c":21,"v":4},{"r":19,"c":22,"v":5},{"r":19,"c":23,"v":4},
{"r":20,"c":0,"v":3},{"r":20,"c":1,"v":2},{"r":20,"c":2,"v":3},{"r":20,"c":3,"v":3},{"r":20,"c":4,"v":3},{"r":20,"c":5,"v":4},{"r":20,"c":6,"v":3},{"r":20,"c":7,"v":4},{"r":20,"c":8,"v":3},{"r":20,"c":9,"v":4},{"r":20,"c":10,"v":4},{"r":20,"c":11,"v":3},{"r":20,"c":12,"v":3},{"r":20,"c":13,"v":4},{"r":20,"c":14,"v":3},{"r":20,"c":15,"v":5},{"r":20,"c":16,"v":3},{"r":20,"c":17,"v":3},{"r":20,"c":18,"v":3},{"r":20,"c":19,"v":4},{"r":20,"c":20,"v":3},{"r":20,"c":21,"v":3},{"r":20,"c":22,"v":4},{"r":20,"c":23,"v":3},
{"r":21,"c":0,"v":3},{"r":21,"c":1,"v":2},{"r":21,"c":2,"v":3},{"r":21,"c":3,"v":3},{"r":21,"c":4,"v":3},{"r":21,"c":5,"v":4},{"r":21,"c":6,"v":3},{"r":21,"c":7,"v":4},{"r":21,"c":8,"v":3},{"r":21,"c":9,"v":3},{"r":21,"c":10,"v":4},{"r":21,"c":11,"v":3},{"r":21,"c":12,"v":3},{"r":21,"c":13,"v":4},{"r":21,"c":14,"v":3},{"r":21,"c":15,"v":4},{"r":21,"c":16,"v":3},{"r":21,"c":17,"v":3},{"r":21,"c":18,"v":3},{"r":21,"c":19,"v":4},{"r":21,"c":20,"v":3},{"r":21,"c":21,"v":3},{"r":21,"c":22,"v":4},{"r":21,"c":23,"v":3},
{"r":22,"c":0,"v":4},{"r":22,"c":1,"v":3},{"r":22,"c":2,"v":4},{"r":22,"c":3,"v":4},{"r":22,"c":4,"v":4},{"r":22,"c":5,"v":5},{"r":22,"c":6,"v":4},{"r":22,"c":7,"v":5},{"r":22,"c":8,"v":4},{"r":22,"c":9,"v":5},{"r":22,"c":10,"v":5},{"r":22,"c":11,"v":4},{"r":22,"c":12,"v":4},{"r":22,"c":13,"v":5},{"r":22,"c":14,"v":4},{"r":22,"c":15,"v":6},{"r":22,"c":16,"v":4},{"r":22,"c":17,"v":4},{"r":22,"c":18,"v":4},{"r":22,"c":19,"v":5},{"r":22,"c":20,"v":4},{"r":22,"c":21,"v":4},{"r":22,"c":22,"v":5},{"r":22,"c":23,"v":4},
{"r":23,"c":0,"v":3},{"r":23,"c":1,"v":2},{"r":23,"c":2,"v":3},{"r":23,"c":3,"v":3},{"r":23,"c":4,"v":3},{"r":23,"c":5,"v":4},{"r":23,"c":6,"v":3},{"r":23,"c":7,"v":4},{"r":23,"c":8,"v":3},{"r":23,"c":9,"v":6},{"r":23,"c":10,"v":5},{"r":23,"c":11,"v":3},{"r":23,"c":12,"v":3},{"r":23,"c":13,"v":4},{"r":23,"c":14,"v":3},{"r":23,"c":15,"v":8},{"r":23,"c":16,"v":3},{"r":23,"c":17,"v":3},{"r":23,"c":18,"v":3},{"r":23,"c":19,"v":4},{"r":23,"c":20,"v":3},{"r":23,"c":21,"v":3},{"r":23,"c":22,"v":4},{"r":23,"c":23,"v":3}
]
},
"hconcat": [
{
"width": 53, "height": 199, "view": {"stroke": null},
"data": {"values": [{"k": 1}]},
"layer": [
{"mark": {"type": "rule", "color": "#b4b4b4", "strokeWidth": 2.2}, "encoding": {"x": {"datum": 0.477, "type": "quantitative", "scale": {"domain": [0, 1], "nice": false, "zero": false}, "axis": null}, "y": {"datum": -0.955, "type": "quantitative", "scale": {"domain": [-1, 1], "nice": false}, "axis": null}, "y2": {"datum": 0.955}}},
{"mark": {"type": "point", "shape": "triangle-up", "filled": true, "size": 80, "color": "#b4b4b4", "opacity": 1}, "encoding": {"x": {"datum": 0.477, "type": "quantitative"}, "y": {"datum": 0.955, "type": "quantitative"}}},
{"mark": {"type": "point", "shape": "triangle-down", "filled": true, "size": 80, "color": "#b4b4b4", "opacity": 1}, "encoding": {"x": {"datum": 0.477, "type": "quantitative"}, "y": {"datum": -0.955, "type": "quantitative"}}},
{"mark": {"type": "text", "angle": 270, "fontSize": 16, "color": "#aaaaaa", "align": "center", "baseline": "middle"}, "encoding": {"x": {"datum": 0.132, "type": "quantitative"}, "y": {"datum": 0.81, "type": "quantitative"}, "text": {"value": "sym"}}},
{"mark": {"type": "text", "angle": 270, "fontSize": 16, "color": "#aaaaaa", "align": "center", "baseline": "middle"}, "encoding": {"x": {"datum": 0.132, "type": "quantitative"}, "y": {"datum": -0.64, "type": "quantitative"}, "text": {"value": "anti-sym"}}},
{"mark": {"type": "text", "fontSize": 21, "fontWeight": "bold", "color": "#000", "align": "center", "baseline": "alphabetic"}, "encoding": {"x": {"datum": -0.151, "type": "quantitative"}, "y": {"datum": 1.195, "type": "quantitative"}, "text": {"value": "a"}}}
]
},
{
"width": 203, "height": 199,
"data": {"name": "a"},
"layer": [
{"mark": {"type": "rule", "color": "#333333", "strokeDash": [4, 2.5], "strokeWidth": 1.3}, "encoding": {"y": {"datum": 0, "type": "quantitative", "title": "symmetry score", "scale": {"domain": [-1, 1], "nice": false}}}},
{"mark": {"type": "rule", "strokeWidth": 1.4, "opacity": 0.8}, "encoding": {
 "x": {"field": "x", "type": "quantitative", "title": "# parameters", "scale": {"type": "log", "domain": [891251, 1.122e12], "nice": false}},
 "y": {"field": "lo", "type": "quantitative", "title": "symmetry score", "scale": {"domain": [-1, 1], "nice": false}}, "y2": {"field": "hi"},
 "color": {"field": "t", "type": "nominal", "scale": {"domain": ["e", "d"], "range": ["#0c0c85", "#820a82"]}, "legend": null}}},
{"mark": {"type": "tick", "orient": "horizontal", "size": 8, "thickness": 1.4, "opacity": 0.8}, "encoding": {
 "x": {"field": "x", "type": "quantitative", "title": "# parameters", "scale": {"type": "log", "domain": [891251, 1.122e12], "nice": false}},
 "y": {"field": "lo", "type": "quantitative", "title": "symmetry score", "scale": {"domain": [-1, 1], "nice": false}},
 "color": {"field": "t", "type": "nominal", "scale": {"domain": ["e", "d"], "range": ["#0c0c85", "#820a82"]}, "legend": null}}},
{"mark": {"type": "tick", "orient": "horizontal", "size": 8, "thickness": 1.4, "opacity": 0.8}, "encoding": {
 "x": {"field": "x", "type": "quantitative", "title": "# parameters", "scale": {"type": "log", "domain": [891251, 1.122e12], "nice": false}},
 "y": {"field": "hi", "type": "quantitative", "title": "symmetry score", "scale": {"domain": [-1, 1], "nice": false}},
 "color": {"field": "t", "type": "nominal", "scale": {"domain": ["e", "d"], "range": ["#0c0c85", "#820a82"]}, "legend": null}}},
{"mark": {"type": "circle", "size": 28, "opacity": 1}, "encoding": {
 "x": {"field": "x", "type": "quantitative", "title": "# parameters", "scale": {"type": "log", "domain": [891251, 1.122e12], "nice": false},
   "axis": {"values": [1e7, 1e9, 1e11], "labelExpr": "datum.value < 1e8 ? '10⁷' : datum.value < 1e10 ? '10⁹' : '10¹¹'", "grid": true, "gridColor": "#9a9a9a", "gridDash": [1.5, 1.5], "gridWidth": 0.8, "domain": false, "tickColor": "#000", "tickSize": 3.5, "labelFontSize": 17, "labelColor": "#000", "labelPadding": 0, "titleFontSize": 18, "titleFontWeight": "normal", "titleColor": "#000", "titlePadding": 2}},
 "y": {"field": "y", "type": "quantitative", "title": "symmetry score", "scale": {"domain": [-1, 1], "nice": false},
   "axis": {"values": [-1, -0.5, 0, 0.5, 1], "format": ".1f", "grid": true, "gridColor": "#9a9a9a", "gridDash": [1.5, 1.5], "gridWidth": 0.8, "domain": false, "tickColor": "#000", "tickSize": 3.5, "labelFontSize": 17.5, "labelColor": "#000", "labelPadding": 1, "titleFontSize": 18.5, "titleFontWeight": "normal", "titleColor": "#000", "titlePadding": 2}},
 "color": {"field": "t", "type": "nominal", "scale": {"domain": ["e", "d"], "range": ["#0c0c85", "#820a82"]}, "legend": null}}},
{"data": {"values": [{"label": "encoder-only"}]}, "mark": {"type": "text", "align": "right", "baseline": "middle", "fontSize": 18, "color": "#1a1a8c"}, "encoding": {"x": {"datum": 6.03e11, "type": "quantitative"}, "y": {"datum": -0.624, "type": "quantitative"}, "text": {"field": "label"}}},
{"data": {"values": [{"label": "decoder-only"}]}, "mark": {"type": "text", "align": "right", "baseline": "middle", "fontSize": 18, "color": "#8a1a8a"}, "encoding": {"x": {"datum": 6.03e11, "type": "quantitative"}, "y": {"datum": -0.825, "type": "quantitative"}, "text": {"field": "label"}}}
]
},
{
"width": 96, "height": 199, "view": {"stroke": null},
"layer": [
{"data": {"name": "hA"}, "transform": [{"calculate": "datum.c+1", "as": "c1"}, {"calculate": "datum.r+1", "as": "r1"}],
 "mark": {"type": "rect", "strokeWidth": 0},
 "encoding": {
  "x": {"field": "c", "type": "quantitative", "title": "embedding dim", "scale": {"domain": [0, 24], "nice": false, "zero": false},
    "axis": {"values": [0.5, 5.5, 10.5, 15.5, 20.5], "labels": false, "domain": false, "grid": false, "ticks": true, "tickSize": 3, "tickColor": "#000", "offset": -50, "titleFontSize": 15.5, "titleFontWeight": "normal", "titleColor": "#222", "titlePadding": 4}},
  "x2": {"field": "c1"},
  "y": {"field": "r", "type": "quantitative", "title": "embedding dim", "scale": {"domain": [-13.25, 36.5], "nice": false, "zero": false, "reverse": true},
    "axis": {"values": [0.5, 5.5, 10.5, 15.5, 20.5], "labels": false, "domain": false, "grid": false, "ticks": true, "tickSize": 3, "tickColor": "#000", "titleFontSize": 15.5, "titleFontWeight": "normal", "titleColor": "#222", "titlePadding": 3}},
  "y2": {"field": "r1"},
  "color": {"field": "v", "type": "quantitative", "scale": {"domain": [0, 4, 9], "range": ["#f7fbff", "#6aa0d3", "#08087a"]}, "legend": null}}},
{"data": {"name": "hA"}, "transform": [{"aggregate": [{"op": "min", "field": "c", "as": "c0"}, {"op": "max", "field": "c", "as": "cm"}, {"op": "min", "field": "r", "as": "r0"}, {"op": "max", "field": "r", "as": "rm"}]}, {"calculate": "datum.cm+1", "as": "c1"}, {"calculate": "datum.rm+1", "as": "r1"}],
 "mark": {"type": "rect", "fill": "transparent", "stroke": "#000", "strokeWidth": 1.3},
 "encoding": {"x": {"field": "c0", "type": "quantitative", "title": "embedding dim", "scale": {"domain": [0, 24], "nice": false, "zero": false}}, "x2": {"field": "c1"}, "y": {"field": "r0", "type": "quantitative", "title": "embedding dim", "scale": {"domain": [-13.25, 36.5], "nice": false, "zero": false, "reverse": true}}, "y2": {"field": "r1"}}},
{"data": {"values": [{"label": "encoder-only"}]}, "mark": {"type": "text", "fontSize": 17.5, "color": "#0c0c85", "align": "center", "baseline": "middle"},
 "encoding": {"x": {"datum": 12, "type": "quantitative", "scale": {"domain": [0, 24], "nice": false, "zero": false}}, "y": {"datum": -7.3, "type": "quantitative", "scale": {"domain": [-13.25, 36.5], "nice": false, "zero": false, "reverse": true}}, "text": {"field": "label"}}}
]
},
{
"width": 63, "height": 199, "view": {"stroke": null},
"data": {"values": [{"k": 1}]},
"layer": [
{"mark": {"type": "rule", "color": "#b4b4b4", "strokeWidth": 2.2}, "encoding": {"x": {"datum": 0.535, "type": "quantitative", "scale": {"domain": [0, 1], "nice": false, "zero": false}, "axis": null}, "y": {"datum": -0.955, "type": "quantitative", "scale": {"domain": [-1, 1], "nice": false}, "axis": null}, "y2": {"datum": 0.955}}},
{"mark": {"type": "point", "shape": "triangle-up", "filled": true, "size": 80, "color": "#b4b4b4", "opacity": 1}, "encoding": {"x": {"datum": 0.535, "type": "quantitative"}, "y": {"datum": 0.955, "type": "quantitative"}}},
{"mark": {"type": "point", "shape": "triangle-down", "filled": true, "size": 80, "color": "#b4b4b4", "opacity": 1}, "encoding": {"x": {"datum": 0.535, "type": "quantitative"}, "y": {"datum": -0.955, "type": "quantitative"}}},
{"mark": {"type": "text", "angle": 270, "fontSize": 16, "color": "#aaaaaa", "align": "center", "baseline": "middle"}, "encoding": {"x": {"datum": 0.286, "type": "quantitative"}, "y": {"datum": 0.855, "type": "quantitative"}, "text": {"value": "rows"}}},
{"mark": {"type": "text", "angle": 270, "fontSize": 16, "color": "#aaaaaa", "align": "center", "baseline": "middle"}, "encoding": {"x": {"datum": 0.286, "type": "quantitative"}, "y": {"datum": -0.64, "type": "quantitative"}, "text": {"value": "columns"}}},
{"mark": {"type": "text", "fontSize": 21, "fontWeight": "bold", "color": "#000", "align": "center", "baseline": "alphabetic"}, "encoding": {"x": {"datum": -0.071, "type": "quantitative"}, "y": {"datum": 1.195, "type": "quantitative"}, "text": {"value": "b"}}}
]
},
{
"width": 202, "height": 199,
"data": {"name": "b"},
"layer": [
{"mark": {"type": "rule", "color": "#333333", "strokeDash": [4, 2.5], "strokeWidth": 1.3}, "encoding": {"y": {"datum": 0, "type": "quantitative", "title": "directionality score", "scale": {"domain": [-1, 1], "nice": false}}}},
{"mark": {"type": "rule", "strokeWidth": 1.4, "opacity": 0.8}, "encoding": {
 "x": {"field": "x", "type": "quantitative", "title": "# parameters", "scale": {"type": "log", "domain": [891251, 1.122e12], "nice": false}},
 "y": {"field": "lo", "type": "quantitative", "title": "directionality score", "scale": {"domain": [-1, 1], "nice": false}}, "y2": {"field": "hi"},
 "color": {"field": "t", "type": "nominal", "scale": {"domain": ["e", "d"], "range": ["#0c0c85", "#820a82"]}, "legend": null}}},
{"mark": {"type": "tick", "orient": "horizontal", "size": 8, "thickness": 1.4, "opacity": 0.8}, "encoding": {
 "x": {"field": "x", "type": "quantitative", "title": "# parameters", "scale": {"type": "log", "domain": [891251, 1.122e12], "nice": false}},
 "y": {"field": "lo", "type": "quantitative", "title": "directionality score", "scale": {"domain": [-1, 1], "nice": false}},
 "color": {"field": "t", "type": "nominal", "scale": {"domain": ["e", "d"], "range": ["#0c0c85", "#820a82"]}, "legend": null}}},
{"mark": {"type": "tick", "orient": "horizontal", "size": 8, "thickness": 1.4, "opacity": 0.8}, "encoding": {
 "x": {"field": "x", "type": "quantitative", "title": "# parameters", "scale": {"type": "log", "domain": [891251, 1.122e12], "nice": false}},
 "y": {"field": "hi", "type": "quantitative", "title": "directionality score", "scale": {"domain": [-1, 1], "nice": false}},
 "color": {"field": "t", "type": "nominal", "scale": {"domain": ["e", "d"], "range": ["#0c0c85", "#820a82"]}, "legend": null}}},
{"mark": {"type": "circle", "size": 28, "opacity": 1}, "encoding": {
 "x": {"field": "x", "type": "quantitative", "title": "# parameters", "scale": {"type": "log", "domain": [891251, 1.122e12], "nice": false},
   "axis": {"values": [1e7, 1e9, 1e11], "labelExpr": "datum.value < 1e8 ? '10⁷' : datum.value < 1e10 ? '10⁹' : '10¹¹'", "grid": true, "gridColor": "#9a9a9a", "gridDash": [1.5, 1.5], "gridWidth": 0.8, "domain": false, "tickColor": "#000", "tickSize": 3.5, "labelFontSize": 17, "labelColor": "#000", "labelPadding": 0, "titleFontSize": 18, "titleFontWeight": "normal", "titleColor": "#000", "titlePadding": 2}},
 "y": {"field": "y", "type": "quantitative", "title": "directionality score", "scale": {"domain": [-1, 1], "nice": false},
   "axis": {"values": [-1, -0.5, 0, 0.5, 1], "format": ".1f", "grid": true, "gridColor": "#9a9a9a", "gridDash": [1.5, 1.5], "gridWidth": 0.8, "domain": false, "tickColor": "#000", "tickSize": 3.5, "labelFontSize": 17.5, "labelColor": "#000", "labelPadding": 1, "titleFontSize": 18.5, "titleFontWeight": "normal", "titleColor": "#000", "titlePadding": 2}},
 "color": {"field": "t", "type": "nominal", "scale": {"domain": ["e", "d"], "range": ["#0c0c85", "#820a82"]}, "legend": null}}}
]
},
{
"width": 96, "height": 199, "view": {"stroke": null},
"layer": [
{"data": {"name": "hB"}, "transform": [{"calculate": "datum.c+1", "as": "c1"}, {"calculate": "datum.r+1", "as": "r1"}],
 "mark": {"type": "rect", "strokeWidth": 0},
 "encoding": {
  "x": {"field": "c", "type": "quantitative", "title": "embedding dim", "scale": {"domain": [0, 24], "nice": false, "zero": false},
    "axis": {"values": [0.5, 5.5, 10.5, 15.5, 20.5], "labels": false, "domain": false, "grid": false, "ticks": true, "tickSize": 3, "tickColor": "#000", "offset": -50, "titleFontSize": 15.5, "titleFontWeight": "normal", "titleColor": "#222", "titlePadding": 4}},
  "x2": {"field": "c1"},
  "y": {"field": "r", "type": "quantitative", "title": "embedding dim", "scale": {"domain": [-13.25, 36.5], "nice": false, "zero": false, "reverse": true},
    "axis": {"values": [0.5, 5.5, 10.5, 15.5, 20.5], "labels": false, "domain": false, "grid": false, "ticks": true, "tickSize": 3, "tickColor": "#000", "titleFontSize": 15.5, "titleFontWeight": "normal", "titleColor": "#222", "titlePadding": 3}},
  "y2": {"field": "r1"},
  "color": {"field": "v", "type": "quantitative", "scale": {"domain": [0, 3, 9], "range": ["#fbfafd", "#aba8d2", "#3f007d"]}, "legend": null}}},
{"data": {"name": "hB"}, "transform": [{"aggregate": [{"op": "min", "field": "c", "as": "c0"}, {"op": "max", "field": "c", "as": "cm"}, {"op": "min", "field": "r", "as": "r0"}, {"op": "max", "field": "r", "as": "rm"}]}, {"calculate": "datum.cm+1", "as": "c1"}, {"calculate": "datum.rm+1", "as": "r1"}],
 "mark": {"type": "rect", "fill": "transparent", "stroke": "#000", "strokeWidth": 1.3},
 "encoding": {"x": {"field": "c0", "type": "quantitative", "title": "embedding dim", "scale": {"domain": [0, 24], "nice": false, "zero": false}}, "x2": {"field": "c1"}, "y": {"field": "r0", "type": "quantitative", "title": "embedding dim", "scale": {"domain": [-13.25, 36.5], "nice": false, "zero": false, "reverse": true}}, "y2": {"field": "r1"}}},
{"data": {"values": [{"label": "decoder-only"}]}, "mark": {"type": "text", "fontSize": 17.5, "color": "#820a82", "align": "center", "baseline": "middle"},
 "encoding": {"x": {"datum": 12, "type": "quantitative", "scale": {"domain": [0, 24], "nice": false, "zero": false}}, "y": {"datum": -7.3, "type": "quantitative", "scale": {"domain": [-13.25, 36.5], "nice": false, "zero": false, "reverse": true}}, "text": {"field": "label"}}}
]
}
]
}
